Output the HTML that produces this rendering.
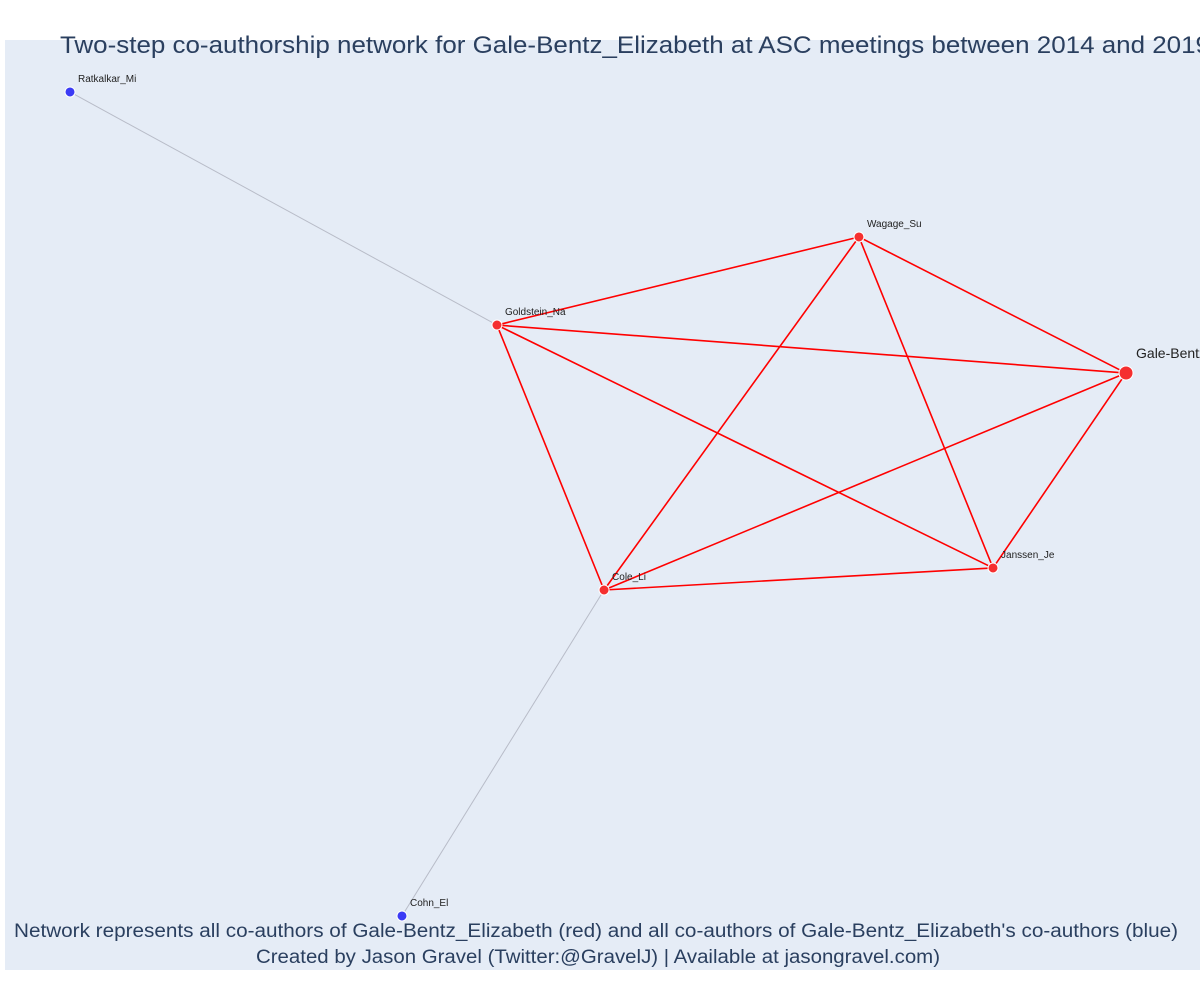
<!DOCTYPE html>
<html><head><meta charset="utf-8"><style>
body{margin:0;background:#fff;width:1200px;height:1000px;overflow:hidden;font-family:"Liberation Sans",sans-serif}
</style></head><body>
<svg width="1200" height="1000" xmlns="http://www.w3.org/2000/svg">
<rect x="5" y="40" width="1195" height="930" fill="#e5ecf6"/>
<g id="edges"></g>
<g id="nodes"></g>
<text x="60" y="53" font-size="24" fill="#2a3f5f" textLength="1150" lengthAdjust="spacingAndGlyphs">Two-step co-authorship network for Gale-Bentz_Elizabeth at ASC meetings between 2014 and 2019</text>
<text x="14" y="937" font-size="19" fill="#2a3f5f" textLength="1164" lengthAdjust="spacingAndGlyphs">Network represents all co-authors of Gale-Bentz_Elizabeth (red) and all co-authors of Gale-Bentz_Elizabeth's co-authors (blue)</text>
<text x="256" y="963" font-size="19" fill="#2a3f5f" textLength="684" lengthAdjust="spacingAndGlyphs">Created by Jason Gravel (Twitter:@GravelJ) | Available at jasongravel.com)</text>
</svg>
<script>
const nodeNames=["Ratkalkar_Mi","Goldstein_Na","Wagage_Su","Gale-Bentz_Elizabeth","Janssen_Je","Cole_Li","Cohn_El"];
const nodeLabels=["Ratkalkar_Mi","Goldstein_Na","Wagage_Su","Gale-Bentz_Elizabeth","Janssen_Je","Cole_Li","Cohn_El"];
const nodeX=[0.0544,0.4117,0.7146,0.9381,0.8268,0.5013,0.3322];
const nodeY=[0.9441,0.6935,0.7882,0.6419,0.4323,0.4086,0.0581];
const nodeGroup=["blue","red","red","ego","red","red","blue"];
const edgeFrom=[0,6,1,1,1,1,2,2,2,3,3,5];
const edgeTo=[1,5,2,3,5,4,3,5,4,5,4,4];
const edgeType=["grey","grey","red","red","red","red","red","red","red","red","red","red"];
const X0=5,W=1195,Y0=40,H=930;
const sx=v=>X0+v*W, sy=v=>Y0+(1-v)*H;
const NS="http://www.w3.org/2000/svg";
const eg=document.getElementById('edges'), ng=document.getElementById('nodes');
edgeFrom.forEach((f,i)=>{
 const t=edgeTo[i];
 const l=document.createElementNS(NS,'line');
 l.setAttribute('x1',sx(nodeX[f]));l.setAttribute('y1',sy(nodeY[f]));
 l.setAttribute('x2',sx(nodeX[t]));l.setAttribute('y2',sy(nodeY[t]));
 const red=edgeType[i]==='red';
 l.setAttribute('stroke',red?'#ff0000':'#b8bcc8');
 l.setAttribute('stroke-width',red?1.6:1);
 
 
 eg.appendChild(l);
});
nodeNames.forEach((n,i)=>{
 const x=sx(nodeX[i]),y=sy(nodeY[i]);
 const c=document.createElementNS(NS,'circle');
 const ego=nodeGroup[i]==='ego';
 c.setAttribute('cx',x);c.setAttribute('cy',y);c.setAttribute('r',ego?7:5);
 c.setAttribute('fill',nodeGroup[i]==='blue'?'#3b3bf5':'#f52f2f');
 c.setAttribute('stroke','#fff');c.setAttribute('stroke-width',1);
 
 
 ng.appendChild(c);
 const t=document.createElementNS(NS,'text');
 t.setAttribute('x',x+(ego?10:8));t.setAttribute('y',y-(ego?15:10));
 t.setAttribute('font-size',ego?14:10);t.setAttribute('fill','#222');
 t.textContent=nodeLabels[i];
 
 
 ng.appendChild(t);
});
</script>
</body></html>
